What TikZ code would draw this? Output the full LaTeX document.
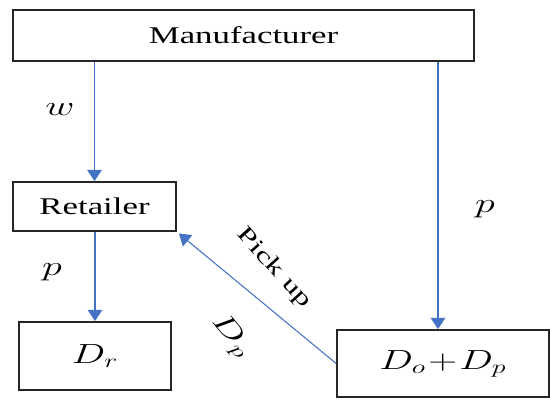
\documentclass[tikz,border=0pt]{standalone}
\usepackage{fontspec}
\usepackage{graphicx}
\setmainfont{Liberation Serif}
\usetikzlibrary{arrows.meta}
\definecolor{linkblue}{RGB}{68,114,196}
\newcommand{\sx}[1]{\scalebox{1.45}[1]{#1}}
\begin{document}
\begin{tikzpicture}[x=0.75pt,y=-0.75pt,
  box/.style={draw=black!85,line width=1.3pt,rectangle,inner sep=0pt,font=\fontsize{18}{19}\selectfont},
  arr/.style={draw=linkblue,line width=0.8pt,-{Triangle[width=11pt,length=8.5pt]}},
  lab/.style={inner sep=0pt,font=\fontsize{21}{23}\selectfont}]
\useasboundingbox (0,0) rectangle (550,406);
\node[box,minimum width=345.75pt,minimum height=38.25pt] (man) at (243.5,35.5) {\sx{Manufacturer}};
\node[box,minimum width=122.25pt,minimum height=36.75pt] (ret) at (94.5,206.5) {\sx{Retailer}};
\node[box,minimum width=114pt,minimum height=51pt,font=\fontsize{21}{23}\selectfont] (dr) at (95,356) {\raisebox{-4pt}{\sx{$D_r$}}};
\node[box,minimum width=159pt,minimum height=50.25pt,font=\fontsize{21}{23}\selectfont] (dod) at (443,363.5) {\raisebox{-4pt}{\sx{$D_o\!+\!D_p$}}};
\coordinate (dtop) at ([xshift=-3.75pt]dod.north);
\draw[arr] (man.south -| ret.north) -- (ret.north);
\draw[arr] (ret.south -| dr.north) -- (dr.north);
\draw[arr] (dtop |- man.south) -- (dtop);
\draw[arr,shorten >=2pt] (dod.west) -- (ret.south east);
\node[lab] (lw) at (60,110) {\sx{$w$}};
\node[lab] (lp1) at (52,272) {\sx{$p$}};
\node[lab] (lp2) at (485,209) {\sx{$p$}};
\node[lab,rotate=-48,font=\fontsize{17}{18}\selectfont] (lpick) at (274,268) {\sx{Pick up}};
\node[lab,rotate=-50] (ldp) at (231,336) {\sx{$D_p$}};
\end{tikzpicture}
\end{document}
